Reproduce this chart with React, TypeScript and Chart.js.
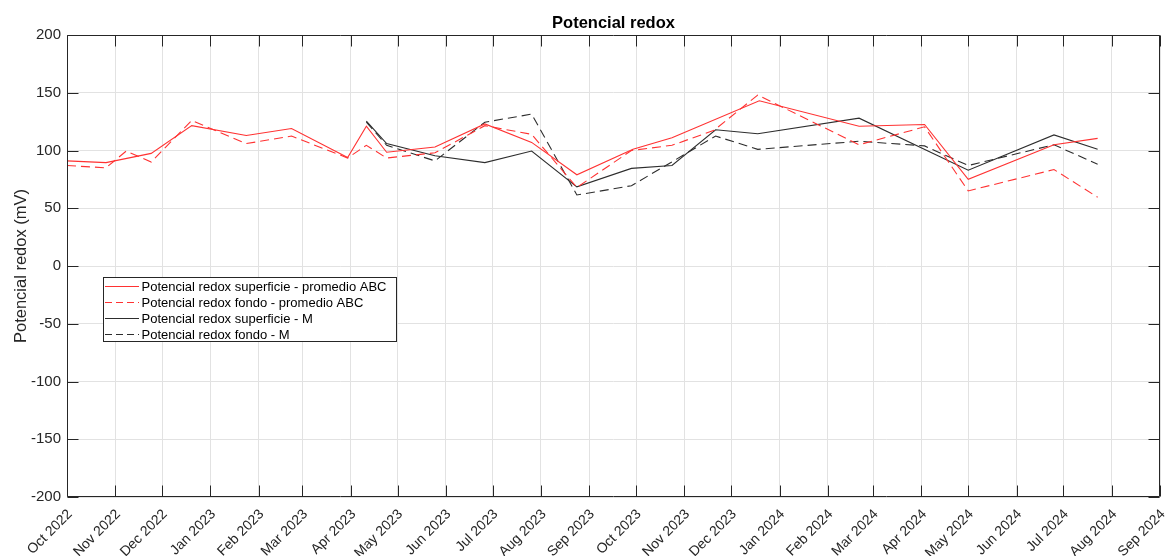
import React, { useEffect, useRef } from 'react';
import { Chart, registerables } from 'chart.js';

Chart.register(...registerables);

// ---- Axis ticks (month starts) ----
const monthTickDates = [
  '2022-10-01', '2022-11-01', '2022-12-01', '2023-01-01', '2023-02-01', '2023-03-01',
  '2023-04-01', '2023-05-01', '2023-06-01', '2023-07-01', '2023-08-01', '2023-09-01',
  '2023-10-01', '2023-11-01', '2023-12-01', '2024-01-01', '2024-02-01', '2024-03-01',
  '2024-04-01', '2024-05-01', '2024-06-01', '2024-07-01', '2024-08-01', '2024-09-01',
];
const monthTickLabels = [
  'Oct 2022', 'Nov 2022', 'Dec 2022', 'Jan 2023', 'Feb 2023', 'Mar 2023',
  'Apr 2023', 'May 2023', 'Jun 2023', 'Jul 2023', 'Aug 2023', 'Sep 2023',
  'Oct 2023', 'Nov 2023', 'Dec 2023', 'Jan 2024', 'Feb 2024', 'Mar 2024',
  'Apr 2024', 'May 2024', 'Jun 2024', 'Jul 2024', 'Aug 2024', 'Sep 2024',
];

// ---- Series: Potencial redox superficie - promedio ABC ----
const supABCDates = [
  '2022-10-01', '2022-10-26', '2022-11-24', '2022-12-20', '2023-01-24', '2023-02-22',
  '2023-03-30', '2023-04-11', '2023-04-24', '2023-05-25', '2023-06-26', '2023-07-26',
  '2023-08-24', '2023-09-29', '2023-10-24', '2023-12-19', '2024-02-21', '2024-04-03',
  '2024-05-01', '2024-06-25', '2024-07-23',
];
const supABCValues = [
  91, 89.5, 97.5, 121.5, 113, 119,
  94, 121, 98.5, 103, 123, 107,
  79, 101, 111, 143, 121, 122.5,
  75, 105, 110.5,
];

// ---- Series: Potencial redox fondo - promedio ABC ----
const fonABCDates = [
  '2022-10-01', '2022-10-26', '2022-11-08', '2022-11-24', '2022-12-20', '2023-01-24',
  '2023-02-22', '2023-03-30', '2023-04-11', '2023-04-24', '2023-05-25', '2023-06-26',
  '2023-07-26', '2023-08-24', '2023-09-28', '2023-10-24', '2023-11-20', '2023-12-18',
  '2024-02-21', '2024-04-03', '2024-05-01', '2024-06-25', '2024-07-23',
];
const fonABCValues = [
  87, 85, 99.5, 90, 126, 106,
  112.5, 93.5, 104.5, 93.5, 98, 121.5,
  114, 68, 100, 104.5, 117.5, 148,
  105, 120.5, 65, 83.5, 59.5,
];

// ---- Series: Potencial redox superficie - M ----
const supMDates = [
  '2023-04-11', '2023-04-24', '2023-05-25', '2023-06-26', '2023-07-26', '2023-08-24',
  '2023-09-28', '2023-10-24', '2023-11-21', '2023-12-18', '2024-02-21', '2024-05-01',
  '2024-06-25', '2024-07-23',
];
const supMValues = [
  125.5, 106, 95.5, 89.5, 99.5, 68.5,
  84.5, 87, 118, 114.5, 128, 83,
  113.5, 101,
];

// ---- Series: Potencial redox fondo - M ----
const fonMDates = [
  '2023-04-11', '2023-04-24', '2023-05-25', '2023-06-26', '2023-07-26', '2023-08-24',
  '2023-09-28', '2023-11-21', '2023-12-18', '2024-02-21', '2024-04-03', '2024-05-01',
  '2024-06-25', '2024-07-23',
];
const fonMValues = [
  124.5, 104.5, 91, 124.5, 131.5, 61.5,
  69.5, 112.5, 101, 108, 104, 87,
  105, 88,
];

const seriesLabels = [
  'Potencial redox superficie - promedio ABC',
  'Potencial redox fondo - promedio ABC',
  'Potencial redox superficie - M',
  'Potencial redox fondo - M',
];

const ORIGIN = Date.UTC(2022, 9, 1);
function dayOf(s: string): number {
  const [y, m, d] = s.split('-').map(Number);
  return (Date.UTC(y, m - 1, d) - ORIGIN) / 86400000;
}
function toPoints(dates: string[], values: number[]) {
  return dates.map((d, i) => ({ x: dayOf(d), y: values[i] }));
}

const RED = 'rgb(255,50,50)';
const DARK = 'rgb(45,45,45)';
const AXIS = 'rgb(38,38,38)';
const GRID = 'rgb(226,226,226)';
const FONT = '"Liberation Sans", Arial, Helvetica, sans-serif';
const DASH = [9, 5];

const decorPlugin = {
  id: 'decor',
  afterDraw(chart: any) {
    const { ctx, chartArea: a, scales } = chart;
    const L = Math.round(a.left) + 0.5;
    const R = Math.round(a.right) - 0.5;
    const T = Math.round(a.top) + 0.5;
    const B = Math.round(a.bottom) - 0.5;
    ctx.save();
    ctx.strokeStyle = AXIS;
    ctx.lineWidth = 1;
    ctx.setLineDash([]);
    // box
    ctx.beginPath();
    ctx.rect(L, T, R - L, B - T);
    ctx.stroke();
    // inward ticks
    const tl = 11;
    ctx.beginPath();
    scales.x.ticks.forEach((t: any) => {
      const px = Math.round(scales.x.getPixelForValue(t.value)) + 0.5;
      ctx.moveTo(px, B); ctx.lineTo(px, B - tl);
      ctx.moveTo(px, T); ctx.lineTo(px, T + tl);
    });
    scales.y.ticks.forEach((t: any) => {
      const py = Math.round(scales.y.getPixelForValue(t.value)) + 0.5;
      ctx.moveTo(L, py); ctx.lineTo(L + tl, py);
      ctx.moveTo(R, py); ctx.lineTo(R - tl, py);
    });
    ctx.stroke();

    // title
    ctx.fillStyle = 'rgb(0,0,0)';
    ctx.font = `bold 16.5px ${FONT}`;
    ctx.textAlign = 'center';
    ctx.textBaseline = 'alphabetic';
    ctx.fillText('Potencial redox', (a.left + a.right) / 2, 27.7);

    // y label
    ctx.save();
    ctx.translate(26, (a.top + a.bottom) / 2);
    ctx.rotate(-Math.PI / 2);
    ctx.fillStyle = AXIS;
    ctx.font = `16.5px ${FONT}`;
    ctx.textAlign = 'center';
    ctx.textBaseline = 'alphabetic';
    ctx.fillText('Potencial redox (mV)', 0, 0);
    ctx.restore();

    // legend
    const bx = 103.5, by = 277.5, bw = 293, bh = 64;
    ctx.fillStyle = '#ffffff';
    ctx.fillRect(bx, by, bw, bh);
    ctx.strokeStyle = AXIS;
    ctx.lineWidth = 1;
    ctx.strokeRect(bx, by, bw, bh);
    ctx.font = `13px ${FONT}`;
    ctx.textAlign = 'left';
    ctx.textBaseline = 'middle';
    chart.data.datasets.forEach((ds: any, i: number) => {
      const cy = Math.round(by + 8 + 16 * i) + 0.5;
      ctx.strokeStyle = ds.borderColor;
      ctx.setLineDash(ds.borderDash ? [7, 4] : []);
      ctx.beginPath();
      ctx.moveTo(105, cy);
      ctx.lineTo(139, cy);
      ctx.stroke();
      ctx.setLineDash([]);
      ctx.fillStyle = 'rgb(0,0,0)';
      ctx.fillText(ds.label, 141.5, cy + 0.5);
    });
    ctx.restore();
  },
};

export default function App() {
  const ref = useRef<HTMLCanvasElement | null>(null);

  useEffect(() => {
    if (!ref.current) return;
    const chart = new Chart(ref.current, {
      type: 'line',
      data: {
        datasets: [
          {
            label: seriesLabels[0],
            data: toPoints(supABCDates, supABCValues),
            borderColor: RED, borderWidth: 1.1, pointRadius: 0, tension: 0, fill: false,
          },
          {
            label: seriesLabels[1],
            data: toPoints(fonABCDates, fonABCValues),
            borderColor: RED, borderWidth: 1.1, pointRadius: 0, tension: 0, fill: false,
            borderDash: DASH,
          },
          {
            label: seriesLabels[2],
            data: toPoints(supMDates, supMValues),
            borderColor: DARK, borderWidth: 1.1, pointRadius: 0, tension: 0, fill: false,
          },
          {
            label: seriesLabels[3],
            data: toPoints(fonMDates, fonMValues),
            borderColor: DARK, borderWidth: 1.1, pointRadius: 0, tension: 0, fill: false,
            borderDash: DASH,
          },
        ],
      },
      options: {
        animation: false,
        responsive: false,
        devicePixelRatio: 1,
        parsing: false,
        normalized: true,
        layout: { padding: { left: 0, right: 5, top: 35, bottom: 0 } },
        plugins: {
          legend: { display: false },
          title: { display: false },
          tooltip: { enabled: false },
        },
        scales: {
          x: {
            type: 'linear',
            min: dayOf(monthTickDates[0]),
            max: dayOf(monthTickDates[monthTickDates.length - 1]),
            grid: { color: GRID, drawTicks: false },
            border: { display: false },
            afterBuildTicks: (scale: any) => {
              scale.ticks = monthTickDates.map((d) => ({ value: dayOf(d) }));
            },
            afterFit: (scale: any) => {
              scale.height = 59;
              scale.paddingLeft = 0;
              scale.paddingRight = 0;
            },
            ticks: {
              autoSkip: false,
              maxRotation: 45,
              minRotation: 45,
              padding: 9,
              labelOffset: 3,
              color: AXIS,
              font: { family: FONT, size: 14 },
              callback: (_v: any, i: number) => monthTickLabels[i],
            },
          },
          y: {
            type: 'linear',
            min: -200,
            max: 200,
            grid: { color: GRID, drawTicks: false },
            border: { display: false },
            afterFit: (scale: any) => {
              scale.width = 67;
              scale.paddingTop = 0;
              scale.paddingBottom = 0;
            },
            ticks: {
              stepSize: 50,
              padding: 6,
              color: AXIS,
              font: { family: FONT, size: 15 },
            },
          },
        },
      },
      plugins: [decorPlugin],
    } as any);
    return () => chart.destroy();
  }, []);

  return (
    <div style={{ position: 'fixed', left: 0, top: 0, width: 1165, height: 556, background: '#fff' }}>
      <canvas ref={ref} width={1165} height={556} style={{ display: 'block' }} />
    </div>
  );
}
